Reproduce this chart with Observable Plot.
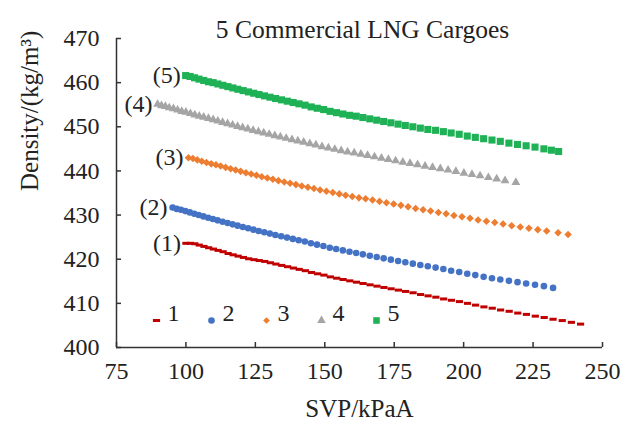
<!DOCTYPE html>
<html>
<head>
<meta charset="utf-8">
<script src="https://cdn.jsdelivr.net/npm/d3@7"></script>
<script src="https://cdn.jsdelivr.net/npm/@observablehq/plot@0.6"></script>
<style>
  html, body { margin: 0; padding: 0; background: #fff; }
</style>
</head>
<body>
<div id="chart"></div>
<script>
// ---- Data ----
const chartTitle = "5 Commercial LNG Cargoes";
const xTitle = "SVP/kPaA";
const yTitle = "Density/(kg/m³)";
const seriesNames = ["1", "2", "3", "4", "5"];
const seriesLabels = ["(1)", "(2)", "(3)", "(4)", "(5)"];
const xTicks = [75, 100, 125, 150, 175, 200, 225, 250];
const yTicks = [400, 410, 420, 430, 440, 450, 460, 470];

const svp1 = [100.0,101.6,103.2,104.8,106.5,108.2,109.9,111.6,113.4,115.2,117.0,118.8,120.7,122.6,124.5,126.4,128.4,130.4,132.4,134.5,136.6,138.7,140.8,143.0,145.2,147.4,149.7,152.0,154.3,156.6,159.0,161.4,163.8,166.3,168.8,171.3,173.9,176.5,179.1,181.8,184.5,187.2,190.0,192.8,195.6,198.5,201.4,204.3,207.3,210.3,213.3,216.4,219.5,222.6,225.8,229.0,232.2,235.5,238.8,242.1];
const den1 = [423.6,423.6,423.5,423.2,422.9,422.6,422.3,422.0,421.7,421.3,421.0,420.7,420.4,420.1,419.9,419.7,419.5,419.2,418.9,418.6,418.3,418.0,417.7,417.4,417.0,416.7,416.4,416.0,415.7,415.4,415.1,414.8,414.5,414.2,413.9,413.6,413.3,413.0,412.7,412.4,412.0,411.7,411.4,411.0,410.7,410.4,410.0,409.6,409.2,408.9,408.5,408.2,407.8,407.5,407.1,406.8,406.4,406.1,405.7,405.3];

const svp2 = [95.2,96.7,98.2,99.8,101.4,103.0,104.6,106.3,108.0,109.7,111.4,113.2,115.0,116.8,118.6,120.5,122.4,124.3,126.2,128.2,130.2,132.2,134.3,136.4,138.5,140.6,142.8,145.0,147.2,149.5,151.8,154.1,156.5,158.9,161.3,163.7,166.2,168.7,171.2,173.8,176.4,179.0,181.7,184.4,187.1,189.9,192.7,195.5,198.4,201.3,204.2,207.2,210.2,213.2,216.3,219.4,222.5,225.7,228.9,232.2];
const den2 = [431.7,431.4,431.2,430.9,430.6,430.3,430.0,429.7,429.4,429.1,428.8,428.5,428.2,427.9,427.6,427.3,427.0,426.7,426.4,426.1,425.8,425.5,425.2,424.9,424.6,424.3,424.0,423.6,423.3,423.0,422.6,422.3,422.0,421.7,421.4,421.1,420.8,420.5,420.2,419.9,419.6,419.3,419.0,418.7,418.4,418.1,417.8,417.4,417.1,416.7,416.4,416.0,415.7,415.4,415.1,414.8,414.5,414.2,413.9,413.5];

const svp3 = [100.9,102.5,104.1,105.7,107.4,109.1,110.8,112.5,114.3,116.1,117.9,119.7,121.6,123.5,125.4,127.3,129.3,131.3,133.3,135.4,137.5,139.6,141.7,143.9,146.1,148.3,150.6,152.9,155.2,157.5,159.9,162.3,164.7,167.2,169.7,172.2,174.8,177.4,180.0,182.7,185.4,188.1,190.9,193.7,196.5,199.4,202.3,205.2,208.2,211.2,214.2,217.3,220.4,223.5,226.7,229.9,234.0,237.6];
const den3 = [443.0,442.8,442.5,442.2,441.9,441.6,441.4,441.1,440.8,440.5,440.2,439.9,439.6,439.3,439.0,438.7,438.4,438.1,437.8,437.5,437.2,436.9,436.6,436.3,436.0,435.7,435.4,435.1,434.8,434.5,434.2,433.9,433.7,433.4,433.1,432.8,432.5,432.2,431.9,431.5,431.2,430.9,430.6,430.3,429.9,429.6,429.3,428.9,428.6,428.3,428.0,427.6,427.3,427.0,426.7,426.4,426.0,425.6];

const svp4 = [89.8,91.2,92.6,94.0,95.5,97.0,98.5,100.0,101.6,103.2,104.8,106.4,108.1,109.8,111.5,113.2,115.0,116.8,118.6,120.4,122.3,124.2,126.1,128.0,130.0,132.0,134.0,136.1,138.2,140.3,142.4,144.6,146.8,149.0,151.3,153.6,155.9,158.2,160.6,163.0,165.4,167.9,170.4,172.9,175.5,178.1,180.7,183.4,186.1,188.8,191.6,194.4,197.2,200.1,203.0,205.9,208.9,211.9,214.9,218.8];
const den4 = [455.1,454.8,454.6,454.3,454.1,453.8,453.5,453.3,453.0,452.7,452.4,452.2,451.9,451.6,451.3,451.0,450.7,450.4,450.1,449.8,449.5,449.2,448.9,448.6,448.3,448.0,447.7,447.4,447.1,446.8,446.5,446.2,445.9,445.5,445.2,444.9,444.6,444.3,444.1,443.8,443.5,443.2,442.9,442.6,442.3,442.0,441.7,441.4,441.1,440.8,440.5,440.2,439.9,439.5,439.2,438.9,438.5,438.2,437.8,437.4];

const svp5 = [99.9,101.5,103.1,104.7,106.4,108.1,109.8,111.5,113.3,115.1,116.9,118.7,120.6,122.5,124.4,126.3,128.3,130.3,132.3,134.4,136.5,138.6,140.7,142.9,145.1,147.3,149.6,151.9,154.2,156.5,158.9,161.3,163.7,166.2,168.7,171.2,173.8,176.4,179.0,181.7,184.4,187.1,189.9,192.7,195.5,198.4,201.3,204.2,207.2,210.2,213.2,216.3,219.4,222.5,225.7,228.9,231.6,234.2];
const den5 = [461.6,461.4,461.1,460.8,460.5,460.2,460.0,459.7,459.4,459.1,458.8,458.5,458.2,457.9,457.6,457.3,457.0,456.7,456.4,456.1,455.8,455.5,455.2,454.9,454.5,454.2,453.9,453.5,453.2,452.9,452.6,452.4,452.1,451.8,451.5,451.2,450.9,450.6,450.3,450.0,449.7,449.4,449.2,448.9,448.6,448.3,447.9,447.6,447.3,447.0,446.7,446.3,446.0,445.7,445.4,445.0,444.7,444.4];

// ---- Styles ----
const font = "'Liberation Serif', 'Times New Roman', serif";
const colors = ["#C00000", "#4472C4", "#ED7D31", "#A5A5A5", "#1FB155"];
const dash = { draw(ctx) { ctx.rect(-3.6, -1.5, 7.2, 3.0); } };
const symbols = [dash, "circle", "diamond2", "triangle", "square"];
const radii = [3, 3.3, 3.4, 3.3, 4.0];
const legendRadii = [3, 3.3, 3.0, 3.2, 3.7];

const svps = [svp1, svp2, svp3, svp4, svp5];
const dens = [den1, den2, den3, den4, den5];
const series = seriesNames.map((name, i) => ({
  name, label: seriesLabels[i],
  rows: svps[i].map((x, j) => ({ x, y: dens[i][j] }))
}));

const marks = [];
// axes (inward ticks)
marks.push(Plot.axisY({ticks: yTicks, tickSize: -5, tickPadding: 22, fontSize: 24, fontFamily: font, stroke: "#333", strokeWidth: 1.5, color: "#222", label: null}));
marks.push(Plot.axisX({ticks: xTicks, tickSize: -5, tickPadding: 19, fontSize: 24, fontFamily: font, stroke: "#333", strokeWidth: 1.5, color: "#222", label: null}));
marks.push(Plot.ruleX([xTicks[0]], {stroke: "#333", strokeWidth: 1.5}));
marks.push(Plot.ruleY([yTicks[0]], {stroke: "#333", strokeWidth: 1.5}));

// series
series.forEach((s, i) => {
  marks.push(Plot.dot(s.rows, {x: "x", y: "y", symbol: symbols[i], r: radii[i], fill: colors[i], stroke: "none"}));
});
// series labels
marks.push(Plot.text(series.map(s => ({x: s.rows[0].x, y: s.rows[0].y, t: s.label})),
  {x: "x", y: "y", text: "t", textAnchor: "end", dx: -5, fontSize: 24, fontFamily: font, fill: "#222"}));

// legend (inside plot, along the bottom)
series.forEach((s, i) => {
  const off = 40 + i * 55;
  marks.push(Plot.dot([s.name], {frameAnchor: "bottom-left", dx: off, dy: -27, symbol: symbols[i], r: legendRadii[i], fill: colors[i], stroke: "none"}));
  marks.push(Plot.text([s.name], {frameAnchor: "bottom-left", dx: off + 11, dy: -27, textAnchor: "start", fontSize: 24, fontFamily: font, fill: "#222"}));
});

// titles
marks.push(Plot.text([chartTitle], {frameAnchor: "top", dx: 3, dy: -19, fontSize: 25.5, fontFamily: font, fill: "#222"}));
marks.push(Plot.text([xTitle], {frameAnchor: "bottom", dy: 69, fontSize: 25, fontFamily: font, fill: "#222"}));
marks.push(Plot.text([yTitle], {frameAnchor: "left", dx: -87, dy: -2, rotate: -90, fontSize: 25, fontFamily: font, fill: "#222"}));

const chart = Plot.plot({
  width: 633,
  height: 433,
  marginLeft: 116,
  marginRight: 31,
  marginTop: 38,
  marginBottom: 86,
  style: {background: "#fff", fontFamily: font},
  x: {domain: [75, 250]},
  y: {domain: [400, 470]},
  marks
});
document.getElementById("chart").appendChild(chart);
</script>
</body>
</html>
